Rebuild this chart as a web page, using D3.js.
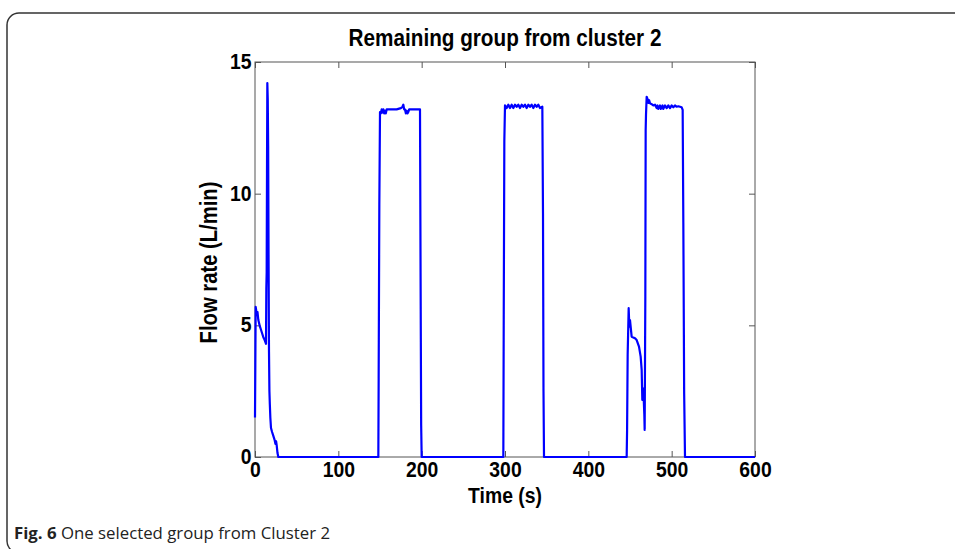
<!DOCTYPE html>
<html>
<head>
<meta charset="utf-8">
<script src="https://cdn.jsdelivr.net/npm/d3@7"></script>
<style>
  html, body { margin: 0; padding: 0; background: #fff; }
  svg { display: block; }
</style>
</head>
<body>
<svg id="chart" width="955" height="549"></svg>
<script>
// Flow-rate trace: time (s) and flow (L/min), sample by sample
const time = [
  0, 0.4, 0.8, 1.3, 2, 3, 4, 5.5, 7, 8.5, 10, 11.5, 12.6, 13.2, 13.6, 14.0, 14.4, 14.8,
  15.3, 15.8, 16.3, 16.8, 17.3, 17.8, 18.4, 19.2, 20.5, 22, 23.5, 24.5, 25.3, 26, 27, 28,
  148, 148.4, 149.2, 150, 151, 152, 153, 154, 155, 156, 157, 158, 160, 165, 170, 175, 177,
  178, 179, 180, 181, 182, 183, 184, 185, 187, 192, 198, 198.6, 199.4, 200,
  298, 298.5, 299.2, 300, 302, 304, 306, 308, 310, 312, 314, 316, 318, 320, 322, 324, 326,
  328, 330, 332, 334, 336, 338, 340, 342, 344.8, 345.6, 346.2, 346.8,
  446, 446.5, 447.2, 448.4, 449.2, 450, 452, 456, 458, 460.8, 462.8, 464, 464.8, 466, 467.2,
  467.6, 468.4, 468.8, 469.2, 470, 471, 472, 473, 474, 476, 478, 480, 482, 483, 484, 486,
  487, 489, 490, 492, 494, 496, 498, 500, 502, 504, 506, 508, 510, 512, 513.2, 514, 515,
  516, 600
];
const flow = [
  1.5, 3.5, 5.7, 5.6, 5.4, 5.5, 5.2, 5.0, 4.85, 4.7, 4.55, 4.45, 4.35, 4.3, 6.4, 7.0, 10.8, 14.2,
  13.6, 11.8, 7.5, 4.0, 2.5, 2.0, 1.5, 1.1, 0.95, 0.8, 0.65, 0.5, 0.6, 0.45, 0.15, 0,
  0, 3.0, 9.6, 13.1, 13.05, 13.2, 13.08, 13.2, 13.05, 13.15, 13.05, 13.2, 13.2, 13.2, 13.2, 13.25, 13.3,
  13.38, 13.2, 13.2, 13.05, 13.15, 13.05, 13.1, 13.2, 13.2, 13.2, 13.2, 7.7, 1.2, 0,
  0, 5.5, 12.0, 13.35, 13.25, 13.38, 13.25, 13.38, 13.25, 13.38, 13.3, 13.38, 13.25, 13.38, 13.3, 13.38, 13.25,
  13.38, 13.3, 13.38, 13.25, 13.38, 13.3, 13.38, 13.25, 13.3, 9.25, 2.5, 0,
  0, 1.0, 3.9, 5.65, 4.95, 5.2, 4.57, 4.51, 4.44, 4.19, 3.81, 3.31, 2.17, 2.6, 1.6,
  1.03, 6.1, 12.4, 13.0, 13.68, 13.6, 13.45, 13.55, 13.43, 13.4, 13.35, 13.38, 13.25, 13.35, 13.22, 13.35,
  13.22, 13.35, 13.22, 13.35, 13.25, 13.35, 13.25, 13.35, 13.28, 13.35, 13.3, 13.32, 13.3, 13.28, 13.18, 8.9, 2.4,
  0, 0
];
const xTicks = [0, 100, 200, 300, 400, 500, 600];
const yTicks = [0, 5, 10, 15];

const titleText = "Remaining group from cluster 2";
const xLabel = "Time (s)";
const yLabel = "Flow rate (L/min)";

const svg = d3.select("#chart");
const plot = { left: 255, top: 62, right: 755, bottom: 457 };

// Figure frame
svg.append("rect")
  .attr("x", 7).attr("y", 13)
  .attr("width", 1000).attr("height", 540)
  .attr("rx", 12).attr("ry", 12)
  .attr("fill", "none").attr("stroke", "#333").attr("stroke-width", 1.5);

const x = d3.scaleLinear().domain([0, 600]).range([plot.left, plot.right]);
const y = d3.scaleLinear().domain([0, 15]).range([plot.bottom, plot.top]);

const axisColor = "#555";
const tickFont = "'Liberation Sans', Arial, sans-serif";

// Bottom and left axes with inward ticks
const gx = svg.append("g").attr("transform", `translate(0,${plot.bottom})`)
  .call(d3.axisBottom(x).tickValues(xTicks).tickSizeInner(-6).tickSizeOuter(0).tickPadding(4));
const gy = svg.append("g").attr("transform", `translate(${plot.left},0)`)
  .call(d3.axisLeft(y).tickValues(yTicks).tickSizeInner(-6).tickSizeOuter(0).tickPadding(4));
// Top and right mirrored ticks
const gxt = svg.append("g").attr("transform", `translate(0,${plot.top})`)
  .call(d3.axisTop(x).tickValues(xTicks).tickSizeInner(-6).tickSizeOuter(0).tickFormat(""));
const gyr = svg.append("g").attr("transform", `translate(${plot.right},0)`)
  .call(d3.axisRight(y).tickValues(yTicks).tickSizeInner(-6).tickSizeOuter(0).tickFormat(""));

[gx, gy, gxt, gyr].forEach(g => {
  g.select(".domain").remove();
  g.selectAll(".tick line").attr("stroke", axisColor).attr("stroke-width", 1);
  g.selectAll(".tick text")
    .attr("fill", "#000")
    .attr("transform", "scale(0.88,1)")
    .style("font-family", tickFont)
    .style("font-weight", "bold")
    .style("font-size", "22px");
});
gy.selectAll(".tick text").attr("dy", "0.3em");

// Box around the plotting area
svg.append("rect")
  .attr("x", plot.left).attr("y", plot.top)
  .attr("width", plot.right - plot.left).attr("height", plot.bottom - plot.top)
  .attr("fill", "none").attr("stroke", axisColor).attr("stroke-width", 1);

// Flow trace
const points = time.map((t, i) => [t, flow[i]]);
svg.append("path")
  .datum(points)
  .attr("fill", "none")
  .attr("stroke", "#0000ff")
  .attr("stroke-width", 2.2)
  .attr("stroke-linejoin", "round")
  .attr("d", d3.line().x(d => x(d[0])).y(d => y(d[1])));

// Title and axis labels
svg.append("text")
  .attr("transform", `translate(${(plot.left + plot.right) / 2},46) scale(0.9,1)`)
  .attr("text-anchor", "middle")
  .style("font-family", tickFont).style("font-weight", "bold").style("font-size", "23px")
  .text(titleText);

svg.append("text")
  .attr("transform", `translate(${(plot.left + plot.right) / 2},503) scale(0.88,1)`)
  .attr("text-anchor", "middle")
  .style("font-family", tickFont).style("font-weight", "bold").style("font-size", "22px")
  .text(xLabel);

svg.append("text")
  .attr("transform", `translate(217,${(plot.top + plot.bottom) / 2 + 3}) rotate(-90) scale(0.88,1)`)
  .attr("text-anchor", "middle")
  .style("font-family", tickFont).style("font-weight", "bold").style("font-size", "23px")
  .text(yLabel);

// Figure caption
const cap = svg.append("text")
  .attr("x", 14).attr("y", 539)
  .style("font-family", "'Open Sans', sans-serif").style("font-size", "16.8px")
  .attr("fill", "#222");
cap.append("tspan").style("font-weight", "bold").text("Fig. 6");
cap.append("tspan").text(" One selected group from Cluster 2");
</script>
</body>
</html>
